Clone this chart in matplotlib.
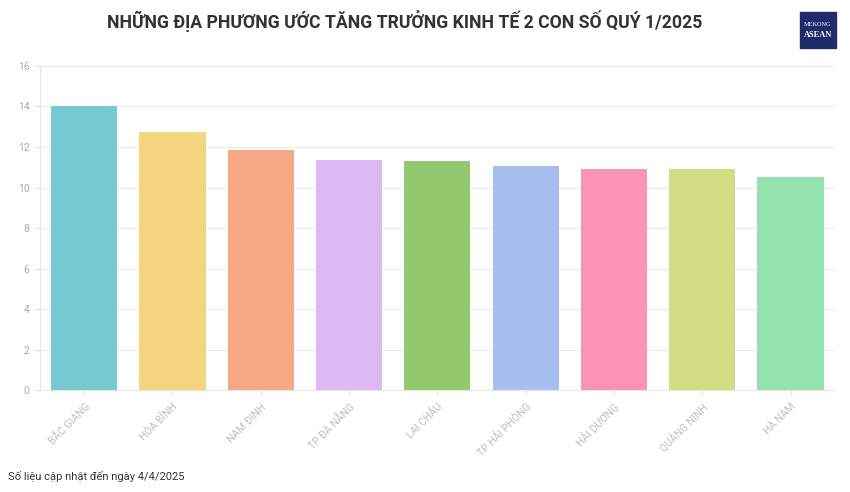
import matplotlib.pyplot as plt
from matplotlib.patches import Rectangle

TINH = ["BẮC GIANG", "HÒA BÌNH", "NAM ĐỊNH", "TP ĐÀ NẴNG", "LAI CHÂU",
        "TP HẢI PHÒNG", "HẢI DƯƠNG", "QUẢNG NINH", "HÀ NAM"]
TANG_TRUONG = [14.02, 12.76, 11.87, 11.36, 11.31, 11.08, 10.93, 10.90, 10.54]
MAU = ["#76c9d0", "#f4d47f", "#f5a883", "#dcb9f1", "#92c96f",
       "#a7bef0", "#fb93b6", "#d2de83", "#94e2ad"]
Y_TICKS = [0, 2, 4, 6, 8, 10, 12, 14, 16]

plt.rcParams["font.family"] = ["Roboto", "DejaVu Sans"]

fig = plt.figure(figsize=(8.5, 4.92), dpi=100)
ax = fig.add_axes([0.047, 0.207, 0.935, 0.659])

x = range(len(TINH))
ax.bar(x, TANG_TRUONG, width=0.75, color=MAU, zorder=2)

ax.set_xlim(-0.5, len(TINH) - 0.5)
ax.set_ylim(0, 16)
ax.set_yticks(Y_TICKS)
ax.set_xticks(list(x))
ax.set_xticklabels(TINH, rotation=45, ha="right", rotation_mode="anchor",
                   fontsize=7.5, color="#bdbdbd")
ax.tick_params(axis="y", labelsize=7.5, labelcolor="#aaaaaa", length=4, color="#e6e6e6")
ax.tick_params(axis="x", length=4, color="#e6e6e6", pad=4)
ax.grid(axis="y", color="#ececec", linewidth=0.8, zorder=0)
for s in ["top", "right"]:
    ax.spines[s].set_visible(False)
ax.spines["left"].set_color("#e6e6e6")
ax.spines["bottom"].set_color("#e6e6e6")

fig.text(0.476, 0.958, "NHỮNG ĐỊA PHƯƠNG ƯỚC TĂNG TRƯỞNG KINH TẾ 2 CON SỐ QUÝ 1/2025",
         ha="center", va="center", fontsize=12.7, fontweight="bold", color="#333333")
fig.text(0.009, 0.032, "Số liệu cập nhật đến ngày 4/4/2025",
         ha="left", va="center", fontsize=8, color="#333333")

# logo
fig.patches.append(Rectangle((0.941, 0.903), 0.042, 0.073, transform=fig.transFigure,
                             color="#1f2a6b", zorder=5))
fig.text(0.962, 0.950, "MEKONG", ha="center", va="center", fontsize=4.5,
         color="white", family="Liberation Serif", zorder=6)
fig.text(0.962, 0.928, "ASEAN", ha="center", va="center", fontsize=6,
         color="white", family="Liberation Serif", fontweight="bold", zorder=6)

fig.savefig("out.png", dpi=100)
